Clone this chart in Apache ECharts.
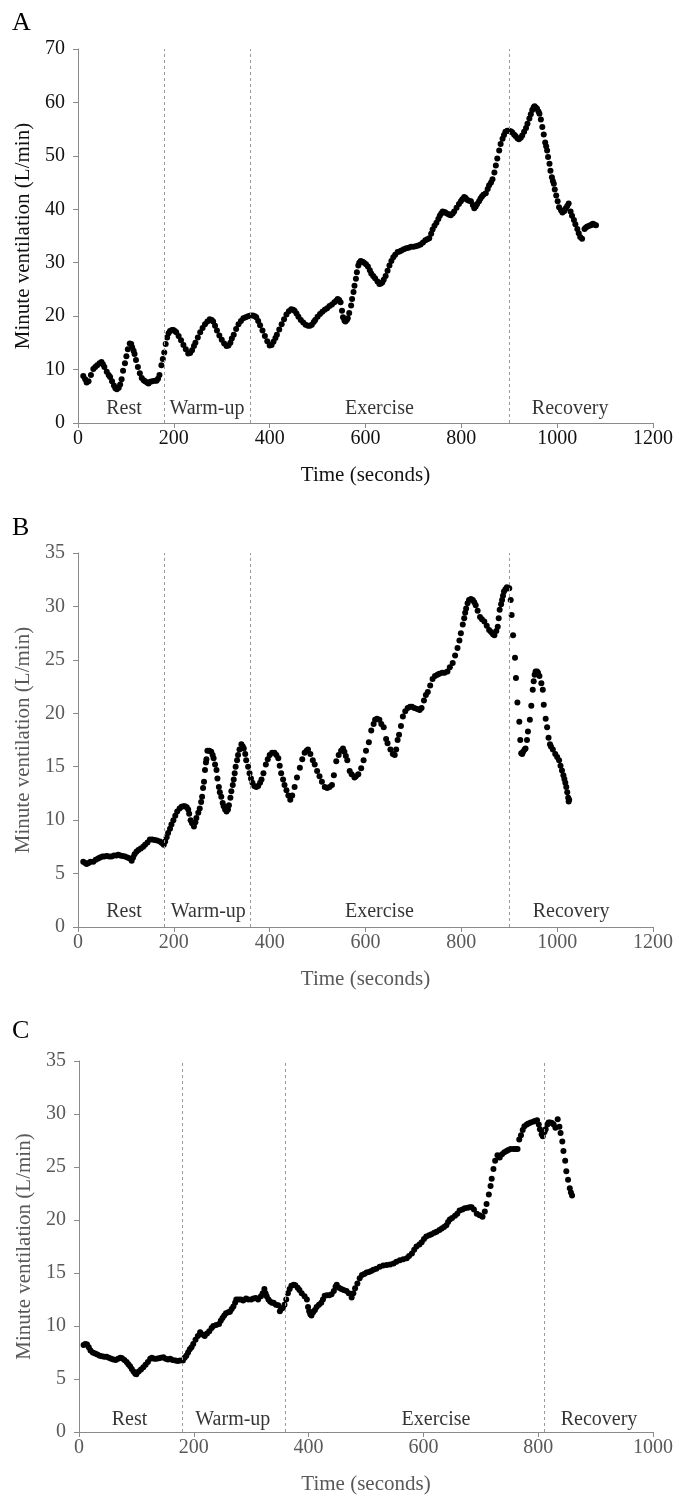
<!DOCTYPE html>
<html>
<head>
<meta charset="utf-8">
<script src="https://cdn.jsdelivr.net/npm/echarts@6/dist/echarts.min.js"></script>
<style>
html,body{margin:0;padding:0;background:#fff;}
#chart{width:676px;height:1496px;}
</style>
</head>
<body>
<div id="chart"></div>
<script>
// ---------- Panel A data ----------
var timeA = [11,15,18,22,27,32,36,40,45,49,52,55,60,64,67,71,75,78,81,85,88,91,94,98,101,104,108,111,113,116,118,121,125,129,133,137,140,144,147,151,155,160,164,167,170,174,177,180,183,186,189,192,196,199,202,205,210,215,220,225,230,234,238,242,245,250,255,260,265,270,275,279,282,286,290,295,300,305,310,314,318,321,325,330,335,340,345,350,355,360,365,369,372,376,380,385,390,395,400,404,408,412,415,420,425,430,435,440,445,449,452,456,460,465,470,475,480,484,488,492,495,500,505,510,515,520,525,530,535,539,542,545,548,551,553,556,558,561,563,566,570,572,575,577,580,582,585,587,590,594,597,601,605,609,612,616,620,625,629,632,635,638,642,646,650,654,658,662,667,671,675,680,685,690,695,700,705,710,715,720,725,729,733,737,740,744,748,752,755,758,761,765,768,772,775,778,782,785,790,795,799,802,806,809,812,816,820,824,827,830,833,837,840,843,846,851,855,858,862,865,869,872,875,879,882,886,889,892,896,899,903,906,910,913,917,920,924,927,931,935,938,942,945,948,951,953,956,958,961,963,966,969,972,975,977,979,981,984,986,989,991,993,995,998,1001,1004,1008,1011,1015,1018,1021,1024,1028,1031,1035,1038,1042,1045,1048,1052,1057,1060,1063,1067,1070,1073,1075,1078,1081];
var ventA = [8.8,8.2,7.6,7.8,9.0,10.1,10.5,10.8,11.2,11.4,11.0,10.5,9.6,9.0,8.6,7.8,7.0,6.5,6.3,6.6,7.2,8.2,9.8,11.2,12.5,13.8,14.9,14.8,14.2,13.5,12.9,11.8,10.5,9.3,8.4,8.0,7.8,7.6,7.4,7.7,7.8,7.9,7.9,8.3,9.0,10.8,12.0,13.2,14.8,16.0,16.8,17.2,17.4,17.4,17.2,17.0,16.3,15.5,14.6,13.8,13.0,13.1,13.6,14.4,15.0,16.0,17.0,17.8,18.5,19.0,19.4,19.3,19.0,18.2,17.3,16.4,15.6,14.9,14.4,14.5,15.0,15.8,16.5,17.6,18.5,19.1,19.6,19.8,20.0,20.1,20.1,20.0,19.8,19.1,18.3,17.3,16.3,15.3,14.5,14.6,15.2,15.9,16.5,17.5,18.5,19.4,20.3,20.9,21.3,21.2,21.0,20.5,19.9,19.3,18.8,18.4,18.2,18.2,18.4,18.9,19.3,19.9,20.4,20.8,21.2,21.5,21.9,22.2,22.6,22.9,23.2,23.0,22.6,21.0,19.8,19.2,19.0,19.3,19.6,20.6,22.0,23.2,24.5,25.7,27.0,28.2,29.5,30.0,30.3,30.2,30.0,29.7,29.3,28.6,28.0,27.5,27.1,26.5,26.0,26.1,26.3,26.8,27.5,28.5,29.5,30.3,31.0,31.5,32.0,32.1,32.3,32.5,32.7,32.8,33.0,33.0,33.1,33.2,33.4,33.8,34.2,34.4,34.6,35.4,36.2,36.9,37.5,38.2,38.8,39.2,39.6,39.5,39.3,39.1,39.0,38.9,39.2,39.6,40.3,41.0,41.5,41.9,42.3,42.1,41.8,41.6,41.5,40.8,40.2,40.5,41.0,41.5,42.0,42.4,42.7,43.0,43.8,44.5,45.0,45.6,46.9,48.2,49.5,51.0,52.2,53.2,53.9,54.5,54.7,54.7,54.6,54.4,54.0,53.7,53.3,53.1,53.4,53.8,54.5,55.2,56.0,57.0,57.8,58.6,59.1,59.3,59.0,58.8,58.3,57.9,56.8,55.4,54.0,52.5,51.8,51.0,49.8,48.5,47.2,46.0,45.3,44.8,43.7,42.6,41.5,40.4,39.8,39.4,39.7,40.2,40.6,41.1,39.6,38.8,38.0,37.2,36.3,35.5,34.8,34.5,36.3,36.6,36.8,36.9,37.0,37.2,37.3,37.1,37.0];

// ---------- Panel B data ----------
var timeB = [11,15,18,22,26,32,37,42,46,51,55,60,65,70,75,80,84,88,93,98,103,108,112,115,118,122,126,131,136,140,145,150,155,160,165,171,175,179,182,185,188,192,195,199,203,207,212,216,220,223,227,230,232,235,238,242,245,247,251,254,257,259,261,263,265,267,268,270,274,278,281,283,286,289,291,294,296,299,302,304,307,310,313,315,318,320,323,325,327,329,332,334,337,341,344,346,349,351,355,358,361,364,368,372,376,380,383,387,392,396,400,405,410,414,418,421,424,428,431,435,439,443,447,452,457,463,468,473,477,480,485,490,494,499,504,509,515,520,525,530,534,539,544,549,553,556,559,562,567,571,577,580,585,591,596,601,607,612,617,620,624,629,633,638,643,646,652,657,661,664,667,670,674,678,683,688,693,697,702,708,713,717,722,726,730,735,740,745,750,754,760,765,771,776,782,787,792,796,799,803,806,808,810,813,816,820,824,827,830,834,839,843,848,853,858,862,866,869,873,876,878,880,883,885,887,889,892,895,898,900,903,905,908,912,914,917,921,923,925,927,929,932,934,937,939,943,946,949,951,953,955,958,960,963,967,970,972,976,979,982,985,987,991,996,1000,1004,1007,1010,1013,1015,1017,1019,1021,1023,1024,1025];
var ventB = [6.1,6.0,5.9,6.0,6.1,6.1,6.3,6.4,6.5,6.6,6.6,6.65,6.6,6.6,6.7,6.7,6.75,6.7,6.65,6.6,6.5,6.4,6.2,6.5,6.8,7.05,7.2,7.35,7.5,7.7,7.9,8.2,8.2,8.15,8.1,8.0,7.85,7.7,8.0,8.4,8.8,9.2,9.6,10.0,10.4,10.8,11.1,11.25,11.3,11.3,11.2,11.0,10.6,10.0,9.7,9.4,9.8,10.2,10.7,11.1,11.7,12.2,13.0,13.6,14.7,15.4,15.7,16.5,16.5,16.4,16.1,15.8,15.2,14.7,13.9,13.1,12.6,12.2,11.6,11.3,11.0,10.8,11.0,11.4,12.1,12.7,13.3,13.8,14.4,15.0,15.6,16.1,16.6,17.1,16.9,16.7,16.2,15.6,15.0,14.4,13.9,13.5,13.2,13.1,13.2,13.5,13.8,14.4,15.2,15.7,16.1,16.3,16.3,16.1,15.8,15.1,14.4,13.8,13.3,12.8,12.3,11.9,12.3,13.1,14.0,14.9,15.7,16.3,16.5,16.6,16.2,15.6,15.2,14.6,14.1,13.6,13.1,13.0,13.1,13.3,14.2,15.5,16.1,16.5,16.7,16.4,16.0,15.6,14.6,14.3,14.0,14.1,14.3,14.85,15.6,16.5,17.3,18.4,19.0,19.4,19.5,19.4,19.0,18.7,17.6,17.2,16.6,16.2,16.1,16.6,17.5,18.0,18.8,19.7,20.2,20.5,20.6,20.6,20.5,20.4,20.3,20.5,21.2,21.7,22.0,22.6,23.2,23.5,23.6,23.7,23.8,23.8,23.9,24.3,24.7,25.4,26.1,26.8,27.5,28.3,28.9,29.4,29.8,30.3,30.6,30.7,30.6,30.4,30.1,29.6,29.0,28.8,28.6,28.2,27.8,27.6,27.4,27.3,27.7,28.1,28.9,29.7,30.2,30.6,31.0,31.4,31.6,31.8,31.7,31.7,30.6,29.2,27.3,25.2,23.3,21.0,19.2,17.5,16.25,16.2,16.4,16.6,16.7,17.5,18.3,19.4,20.7,22.2,23.0,23.6,23.9,23.9,23.8,23.5,22.8,22.2,20.8,19.5,18.7,17.7,17.1,16.9,16.6,16.2,15.9,15.6,15.1,14.65,14.2,13.85,13.5,13.1,12.6,12.1,11.75,11.9];

// ---------- Panel C data ----------
var timeC = [8,11,14,17,20,24,28,32,36,40,44,48,52,56,60,64,68,72,75,79,83,86,89,92,95,98,100,104,108,112,116,120,124,127,131,135,139,143,147,151,155,159,163,168,172,176,181,184,187,190,193,196,199,203,207,211,215,219,223,227,231,234,239,244,247,250,253,256,260,263,266,269,272,274,278,282,286,291,295,300,304,308,312,317,320,323,325,327,330,333,336,339,343,347,350,352,355,358,361,364,367,370,374,377,381,384,388,393,397,399,401,403,405,408,411,414,418,422,425,428,432,436,440,444,447,449,453,457,461,466,470,475,478,481,485,489,493,497,501,505,509,513,518,524,530,536,542,548,553,559,565,571,575,580,584,588,593,597,601,605,610,614,619,623,628,632,636,640,643,646,650,655,659,663,668,672,677,681,684,688,693,698,703,707,710,714,717,719,722,725,729,733,737,741,745,748,752,757,761,764,767,770,773,776,780,783,787,792,795,798,801,803,806,808,811,813,816,818,821,824,827,830,834,837,839,842,844,847,849,852,855,857,859];
var ventC = [8.2,8.3,8.25,8.0,7.7,7.5,7.4,7.3,7.2,7.15,7.1,7.1,7.0,6.9,6.85,6.8,6.9,7.0,6.95,6.8,6.6,6.4,6.2,5.95,5.7,5.5,5.45,5.7,5.9,6.1,6.35,6.6,6.9,7.0,6.9,6.9,6.95,7.0,7.05,6.9,6.85,6.9,6.8,6.75,6.7,6.75,6.75,7.0,7.2,7.5,7.8,8.0,8.3,8.7,9.05,9.4,9.2,9.05,9.3,9.5,9.8,10.0,10.1,10.2,10.5,10.75,11.0,11.2,11.3,11.35,11.6,11.85,12.2,12.5,12.5,12.5,12.4,12.6,12.5,12.5,12.6,12.65,12.5,12.8,13.1,13.5,13.1,12.8,12.5,12.3,12.2,12.2,12.0,11.95,11.4,11.6,11.7,12.0,12.5,13.1,13.5,13.8,13.9,13.85,13.6,13.4,13.1,12.8,12.5,11.8,11.4,11.1,11.0,11.3,11.5,11.8,12.0,12.2,12.5,12.85,12.9,12.9,13.0,13.3,13.7,13.9,13.6,13.5,13.4,13.3,13.1,12.7,13.1,13.55,14.0,14.5,14.8,14.9,15.05,15.1,15.2,15.3,15.4,15.6,15.7,15.75,15.8,15.9,16.05,16.2,16.3,16.4,16.6,16.85,17.2,17.5,17.7,17.9,18.2,18.45,18.55,18.65,18.8,18.9,19.05,19.2,19.35,19.5,19.8,20.05,20.2,20.4,20.6,20.9,21.0,21.1,21.15,21.2,21.2,21.0,20.6,20.45,20.3,20.8,21.5,22.4,23.2,23.9,24.8,25.6,26.1,25.9,26.2,26.4,26.5,26.6,26.7,26.7,26.7,26.7,27.6,28.0,28.5,28.85,29.0,29.1,29.2,29.3,29.35,29.4,29.0,28.55,28.1,27.9,28.3,28.55,29.0,29.2,29.2,29.15,29.0,28.7,29.5,28.8,28.2,27.4,26.5,25.6,24.6,23.8,23.0,22.6,22.3];

// ---------- Axis / annotation values ----------
var phaseNames = ['Rest', 'Warm-up', 'Exercise', 'Recovery'];
var phaseLinesA = [180, 360, 900];
var phaseLinesB = [180, 360, 900];
var phaseLinesC = [180, 360, 810];
var phaseLabelXA = [96, 269, 629, 1027];
var phaseLabelXB = [96, 272, 629, 1029];
var phaseLabelXC = [88, 268, 622, 906];
var phaseLabelYA = 2.7;
var phaseLabelYB = 1.45;
var phaseLabelYC = 1.2;
var panelLetters = ['A', 'B', 'C'];
var xMaxA = 1200, xMaxB = 1200, xMaxC = 1000;
var yMaxA = 70, yMaxB = 35, yMaxC = 35;
var yStepA = 10, yStepB = 5, yStepC = 5;
var xStep = 200;
var xTitle = 'Time (seconds)';
var yTitle = 'Minute ventilation (L/min)';

function pairs(t, v) { return t.map(function (x, i) { return [x, v[i]]; }); }
function labelPts(xs, y) { return xs.map(function (x, i) { return { value: [x, y], name: phaseNames[i] }; }); }
function plain(v) { return String(v); }

var FONT = 'Liberation Serif';
var axisGray = '#8a8a8a';
var TICK_FS = 20, TITLE_FS = 21;

function xAxisCfg(idx, max, labelColor) {
  return {
    type: 'value', gridIndex: idx, min: 0, max: max, interval: xStep,
    name: xTitle, nameLocation: 'middle', nameGap: 42,
    nameTextStyle: { fontFamily: FONT, fontSize: TITLE_FS, color: labelColor },
    axisLine: { show: true, onZero: false, lineStyle: { color: axisGray, width: 1 } },
    axisTick: { show: true, length: 5, inside: false, lineStyle: { color: axisGray } },
    axisLabel: { fontFamily: FONT, fontSize: TICK_FS, color: labelColor, margin: 6, formatter: plain },
    splitLine: { show: false }
  };
}
function yAxisCfg(idx, max, step, labelColor) {
  return {
    type: 'value', gridIndex: idx, min: 0, max: max, interval: step,
    name: yTitle, nameLocation: 'middle', nameGap: 43, nameRotate: 90,
    nameTextStyle: { fontFamily: FONT, fontSize: TITLE_FS, color: labelColor },
    axisLine: { show: true, lineStyle: { color: axisGray, width: 1 } },
    axisTick: { show: true, length: 5, inside: false, lineStyle: { color: axisGray } },
    axisLabel: { fontFamily: FONT, fontSize: TICK_FS, color: labelColor, margin: 13, formatter: plain },
    splitLine: { show: false }
  };
}
function dataSeries(idx, data, lines) {
  return {
    type: 'scatter', xAxisIndex: idx, yAxisIndex: idx, data: data,
    symbol: 'circle', symbolSize: 6, itemStyle: { color: '#000', opacity: 1 },
    silent: true, animation: false,
    markLine: {
      silent: true, symbol: ['none', 'none'], animation: false,
      label: { show: false },
      lineStyle: { color: '#9a9a9a', type: [3, 3], width: 1 },
      data: lines.map(function (x) { return { xAxis: x }; })
    }
  };
}
function labelSeries(idx, data) {
  return {
    type: 'scatter', xAxisIndex: idx, yAxisIndex: idx, data: data,
    symbolSize: 0, silent: true, animation: false,
    label: { show: true, position: 'inside', formatter: '{b}', fontFamily: FONT, fontSize: TICK_FS, color: '#000' }
  };
}

var chart = echarts.init(document.getElementById('chart'), null, { renderer: 'canvas' });
chart.setOption({
  backgroundColor: '#fff',
  animation: false,
  title: [
    { text: panelLetters[0], left: 12, top: 10, padding: 0, textStyle: { fontFamily: FONT, fontSize: 26, fontWeight: 'normal', color: '#000' } },
    { text: panelLetters[1], left: 12, top: 515, padding: 0, textStyle: { fontFamily: FONT, fontSize: 26, fontWeight: 'normal', color: '#000' } },
    { text: panelLetters[2], left: 12, top: 1018, padding: 0, textStyle: { fontFamily: FONT, fontSize: 26, fontWeight: 'normal', color: '#000' } }
  ],
  grid: [
    { left: 78, top: 49, width: 576, height: 374 },
    { left: 78, top: 553, width: 576, height: 374 },
    { left: 79, top: 1061, width: 575, height: 374 }
  ],
  xAxis: [
    xAxisCfg(0, xMaxA, '#111'),
    xAxisCfg(1, xMaxB, '#595959'),
    xAxisCfg(2, xMaxC, '#595959')
  ],
  yAxis: [
    yAxisCfg(0, yMaxA, yStepA, '#111'),
    yAxisCfg(1, yMaxB, yStepB, '#595959'),
    yAxisCfg(2, yMaxC, yStepC, '#595959')
  ],
  series: [
    dataSeries(0, pairs(timeA, ventA), phaseLinesA),
    dataSeries(1, pairs(timeB, ventB), phaseLinesB),
    dataSeries(2, pairs(timeC, ventC), phaseLinesC),
    labelSeries(0, labelPts(phaseLabelXA, phaseLabelYA)),
    labelSeries(1, labelPts(phaseLabelXB, phaseLabelYB)),
    labelSeries(2, labelPts(phaseLabelXC, phaseLabelYC))
  ]
});
</script>
</body>
</html>
